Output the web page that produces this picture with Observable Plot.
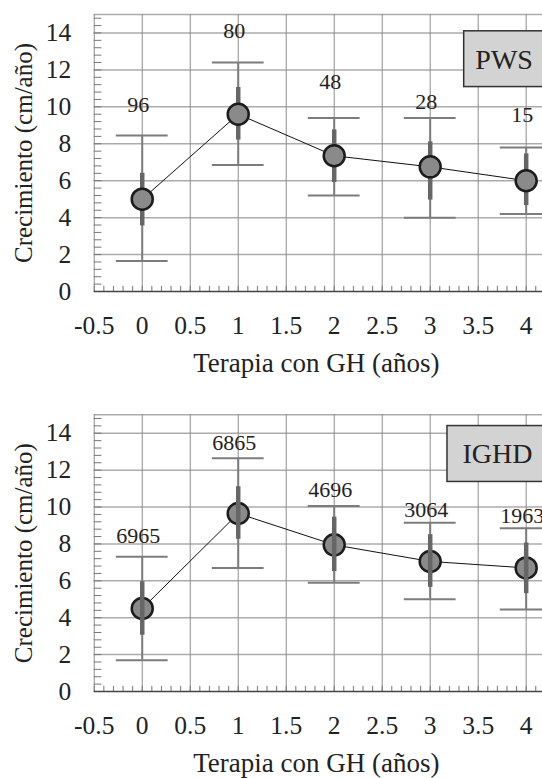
<!DOCTYPE html>
<html>
<head>
<meta charset="utf-8">
<script src="https://cdn.jsdelivr.net/npm/d3@7"></script>
<script src="https://cdn.jsdelivr.net/npm/@observablehq/plot@0.6"></script>
<style>
  body { margin: 0; background: #fff; overflow: hidden; }
  #c svg { display: block; }
  #c svg, #c svg text { font-family: "Liberation Serif", "Times New Roman", "DejaVu Serif", serif !important; }
</style>
</head>
<body>
<div id="c"></div>
<script>
// ---- data ----
const years = [0, 1, 2, 3, 4];

const pwsMean      = [5.0, 9.6, 7.35, 6.75, 6.0];
const pwsLow       = [1.65, 6.85, 5.2, 4.0, 4.2];
const pwsHigh      = [8.45, 12.4, 9.4, 9.4, 7.8];
const pwsInnerLow  = [3.55, 8.2, 5.9, 4.95, 4.65];
const pwsInnerHigh = [6.4, 11.05, 8.75, 8.1, 7.45];
const pwsN         = ["96", "80", "48", "28", "15"];
const pwsNY        = [10.1, 14.1, 11.35, 10.25, 9.55];

const ighdMean      = [4.5, 9.65, 7.95, 7.05, 6.7];
const ighdLow       = [1.7, 6.7, 5.9, 5.0, 4.45];
const ighdHigh      = [7.3, 12.65, 10.05, 9.15, 8.85];
const ighdInnerLow  = [3.05, 8.25, 6.5, 5.65, 5.3];
const ighdInnerHigh = [5.95, 11.1, 9.45, 8.5, 8.05];
const ighdN         = ["6965", "6865", "4696", "3064", "1963"];
const ighdNY        = [8.45, 13.45, 10.9, 9.85, 9.5];

const xTickValues = [-0.5, 0, 0.5, 1, 1.5, 2, 2.5, 3, 3.5, 4];
const yTickValues = [0, 2, 4, 6, 8, 10, 12, 14];
const xMinor = d3.range(-5, 42).map(i => i / 10);
const yMinor = d3.range(0, 38).map(i => i * 0.4);

const xTitle = "Terapia con GH (años)";
const yTitle = "Crecimiento (cm/año)";

const pwsBox  = {label: "PWS",  x1: 3.354, x2: 4.25, y1: 11.07, y2: 14.09, tx: 3.77, ty: 12.55};
const ighdBox = {label: "IGHD", x1: 3.18,  x2: 4.25, y1: 11.36, y2: 14.39, tx: 3.70, ty: 12.87};

function rows(mean, low, high, il, ih, n, ny) {
  return years.map((x, i) => ({x, mean: mean[i], low: low[i], high: high[i],
    il: il[i], ih: ih[i], n: n[i], ny: ny[i]}));
}

const FONT = "Liberation Serif";
const TXT = "#222";

function panel({data, box, height, marginTop, marginBottom, barsOnTop}) {
  const bars = [
    Plot.ruleX(data, {x: "x", y1: "low", y2: "high", stroke: "#7c7c7c", strokeWidth: 2}),
    Plot.ruleY(data, {y: "low", x1: d => d.x - 0.27, x2: d => d.x + 0.27, stroke: "#7c7c7c", strokeWidth: 2}),
    Plot.ruleY(data, {y: "high", x1: d => d.x - 0.27, x2: d => d.x + 0.27, stroke: "#7c7c7c", strokeWidth: 2}),
    Plot.ruleX(data, {x: "x", y1: "il", y2: "ih", stroke: "#666", strokeWidth: 4.5})
  ];
  const dots = [
    Plot.line(data, {x: "x", y: "mean", stroke: "#111", strokeWidth: 1}),
    Plot.dot(data, {x: "x", y: "mean", r: 10.5, fill: "#8a8a8a", stroke: "#1c1c1c", strokeWidth: 2.5})
  ];
  return Plot.plot({
    width: 542,
    height,
    marginTop,
    marginBottom,
    marginLeft: 93.75,
    marginRight: 0,
    x: {domain: [-0.5, 4.17], axis: null},
    y: {domain: [0, 15], axis: null},
    style: {background: "#fff", color: TXT},
    marks: [
      Plot.ruleY(yTickValues.filter(d => d > 0).concat([15]), {stroke: "#ababab", strokeWidth: 1.5}),
      Plot.ruleX(xTickValues, {stroke: "#8c8c8c", strokeWidth: 1}),
      Plot.ruleX(xMinor, {y1: 0, y2: 0.28, stroke: "#777", strokeWidth: 1}),
      Plot.ruleY(yMinor, {x1: -0.5, x2: -0.42, stroke: "#777", strokeWidth: 1}),
      Plot.ruleY([0], {stroke: "#444", strokeWidth: 1.5}),
      Plot.rect([box], {x1: "x1", x2: "x2", y1: "y1", y2: "y2", fill: "#d3d3d3", stroke: "#333", strokeWidth: 1.5}),
      Plot.text([box], {x: "tx", y: "ty", text: "label", fontSize: 28, fontFamily: FONT, fill: TXT}),
      ...(barsOnTop ? [...dots, ...bars] : [...bars, ...dots]),
      Plot.text(data, {x: "x", y: "ny", text: "n", dx: -4, fontSize: 22, fontFamily: FONT, fill: TXT}),
      Plot.text(xTickValues, {x: d => d, text: d => String(d), frameAnchor: "bottom", lineAnchor: "middle", dy: 34, fontSize: 25.5, fontFamily: FONT, fill: TXT}),
      Plot.text(yTickValues, {y: d => d, text: d => String(d), frameAnchor: "left", lineAnchor: "middle", dx: -23, textAnchor: "end", fontSize: 25.5, fontFamily: FONT, fill: TXT}),
      Plot.text([xTitle], {frameAnchor: "bottom", lineAnchor: "middle", textAnchor: "middle", dy: 71.5, dx: -2, fontSize: 27, fontFamily: FONT, fill: TXT}),
      Plot.text([yTitle], {frameAnchor: "left", lineAnchor: "middle", dx: -70, rotate: -90, textAnchor: "middle", fontSize: 25, fontFamily: FONT, fill: TXT})
    ]
  });
}

const c = document.getElementById("c");
c.appendChild(panel({
  data: rows(pwsMean, pwsLow, pwsHigh, pwsInnerLow, pwsInnerHigh, pwsN, pwsNY),
  box: pwsBox, height: 400, marginTop: 14, marginBottom: 109, barsOnTop: false
}));
c.appendChild(panel({
  data: rows(ighdMean, ighdLow, ighdHigh, ighdInnerLow, ighdInnerHigh, ighdN, ighdNY),
  box: ighdBox, height: 378, marginTop: 14.3, marginBottom: 87, barsOnTop: true
}));
</script>
</body>
</html>
